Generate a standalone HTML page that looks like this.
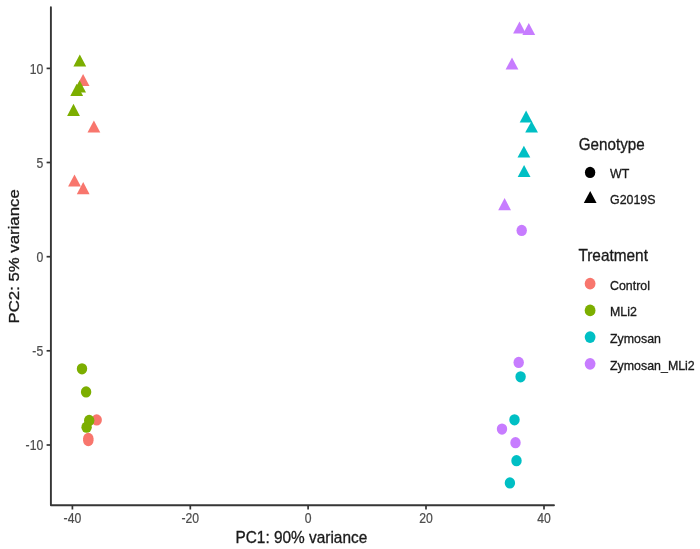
<!DOCTYPE html>
<html><head><meta charset="utf-8"><style>
html,body{margin:0;padding:0;background:#fff;}
body{width:700px;height:549px;overflow:hidden;}
svg{display:block;font-family:"Liberation Sans",sans-serif;filter:blur(0.45px);}
</style></head><body>
<svg width="700" height="549" viewBox="0 0 700 549">
<rect width="700" height="549" fill="#fff"/>
<path d="M50.9,7.3 V505.3 H554.0" fill="none" stroke="#363636" stroke-width="1.9" stroke-linejoin="round" stroke-linecap="round"/>
<line x1="72.4" y1="505" x2="72.4" y2="509.5" stroke="#333333" stroke-width="1.7"/>
<text transform="translate(72.40,523.00) scale(1,1.18)" font-size="12.2" fill="#4D4D4D" stroke="#4D4D4D" stroke-width="0.2" text-anchor="middle">-40</text>
<line x1="190.3" y1="505" x2="190.3" y2="509.5" stroke="#333333" stroke-width="1.7"/>
<text transform="translate(190.30,523.00) scale(1,1.18)" font-size="12.2" fill="#4D4D4D" stroke="#4D4D4D" stroke-width="0.2" text-anchor="middle">-20</text>
<line x1="308.1" y1="505" x2="308.1" y2="509.5" stroke="#333333" stroke-width="1.7"/>
<text transform="translate(308.10,523.00) scale(1,1.18)" font-size="12.2" fill="#4D4D4D" stroke="#4D4D4D" stroke-width="0.2" text-anchor="middle">0</text>
<line x1="426.0" y1="505" x2="426.0" y2="509.5" stroke="#333333" stroke-width="1.7"/>
<text transform="translate(426.00,523.00) scale(1,1.18)" font-size="12.2" fill="#4D4D4D" stroke="#4D4D4D" stroke-width="0.2" text-anchor="middle">20</text>
<line x1="544.0" y1="505" x2="544.0" y2="509.5" stroke="#333333" stroke-width="1.7"/>
<text transform="translate(544.00,523.00) scale(1,1.18)" font-size="12.2" fill="#4D4D4D" stroke="#4D4D4D" stroke-width="0.2" text-anchor="middle">40</text>
<line x1="46.6" y1="68.4" x2="51" y2="68.4" stroke="#333333" stroke-width="1.7"/>
<text transform="translate(43.20,73.50) scale(1,1.18)" font-size="12.2" fill="#4D4D4D" stroke="#4D4D4D" stroke-width="0.2" text-anchor="end">10</text>
<line x1="46.6" y1="162.5" x2="51" y2="162.5" stroke="#333333" stroke-width="1.7"/>
<text transform="translate(43.20,167.60) scale(1,1.18)" font-size="12.2" fill="#4D4D4D" stroke="#4D4D4D" stroke-width="0.2" text-anchor="end">5</text>
<line x1="46.6" y1="256.7" x2="51" y2="256.7" stroke="#333333" stroke-width="1.7"/>
<text transform="translate(43.20,261.80) scale(1,1.18)" font-size="12.2" fill="#4D4D4D" stroke="#4D4D4D" stroke-width="0.2" text-anchor="end">0</text>
<line x1="46.6" y1="350.8" x2="51" y2="350.8" stroke="#333333" stroke-width="1.7"/>
<text transform="translate(43.20,355.90) scale(1,1.18)" font-size="12.2" fill="#4D4D4D" stroke="#4D4D4D" stroke-width="0.2" text-anchor="end">-5</text>
<line x1="46.6" y1="445.0" x2="51" y2="445.0" stroke="#333333" stroke-width="1.7"/>
<text transform="translate(43.20,449.60) scale(1,1.18)" font-size="12.2" fill="#4D4D4D" stroke="#4D4D4D" stroke-width="0.2" text-anchor="end">-10</text>
<text transform="translate(235.50,542.50) scale(1,1.09)" font-size="15.4" fill="#1a1a1a" stroke="#1a1a1a" stroke-width="0.3" text-anchor="start">PC1: 90% variance</text>
<text transform="translate(19.00,323.50) scale(1,1.09) rotate(-90)" font-size="15.4" fill="#1a1a1a" stroke="#1a1a1a" stroke-width="0.3" text-anchor="start">PC2: 5% variance</text>
<polygon points="79.80,54.60 86.20,66.50 73.40,66.50" fill="#7CAE00"/>
<polygon points="83.10,73.90 89.50,85.90 76.70,85.90" fill="#F8766D"/>
<polygon points="79.60,80.20 86.00,92.40 73.20,92.40" fill="#7CAE00"/>
<polygon points="76.70,83.70 83.10,95.90 70.30,95.90" fill="#7CAE00"/>
<polygon points="73.50,103.80 79.90,115.90 67.10,115.90" fill="#7CAE00"/>
<polygon points="93.90,120.50 100.30,132.60 87.50,132.60" fill="#F8766D"/>
<polygon points="74.50,174.50 80.90,186.60 68.10,186.60" fill="#F8766D"/>
<polygon points="83.20,182.10 89.60,194.20 76.80,194.20" fill="#F8766D"/>
<polygon points="519.50,21.50 525.90,33.60 513.10,33.60" fill="#C77CFF"/>
<polygon points="528.80,23.00 535.20,35.10 522.40,35.10" fill="#C77CFF"/>
<polygon points="512.00,57.40 518.40,69.60 505.60,69.60" fill="#C77CFF"/>
<polygon points="526.10,110.50 532.50,122.40 519.70,122.40" fill="#00BFC4"/>
<polygon points="531.60,120.90 538.00,132.50 525.20,132.50" fill="#00BFC4"/>
<polygon points="523.90,145.70 530.30,157.60 517.50,157.60" fill="#00BFC4"/>
<polygon points="524.10,165.00 530.50,176.90 517.70,176.90" fill="#00BFC4"/>
<polygon points="504.60,198.00 511.00,210.30 498.20,210.30" fill="#C77CFF"/>
<ellipse cx="82.00" cy="368.80" rx="5.2" ry="5.65" fill="#7CAE00"/>
<ellipse cx="86.10" cy="391.90" rx="5.2" ry="5.65" fill="#7CAE00"/>
<ellipse cx="96.70" cy="419.90" rx="5.2" ry="5.65" fill="#F8766D"/>
<ellipse cx="89.20" cy="420.40" rx="5.2" ry="5.65" fill="#7CAE00"/>
<ellipse cx="86.60" cy="427.20" rx="5.2" ry="5.65" fill="#7CAE00"/>
<ellipse cx="88.30" cy="438.40" rx="5.2" ry="5.65" fill="#F8766D"/>
<ellipse cx="88.30" cy="440.50" rx="5.2" ry="5.65" fill="#F8766D"/>
<ellipse cx="521.70" cy="230.40" rx="5.2" ry="5.65" fill="#C77CFF"/>
<ellipse cx="518.70" cy="362.40" rx="5.2" ry="5.65" fill="#C77CFF"/>
<ellipse cx="520.60" cy="376.80" rx="5.2" ry="5.65" fill="#00BFC4"/>
<ellipse cx="514.50" cy="419.80" rx="5.2" ry="5.65" fill="#00BFC4"/>
<ellipse cx="502.00" cy="429.10" rx="5.2" ry="5.65" fill="#C77CFF"/>
<ellipse cx="515.50" cy="442.70" rx="5.2" ry="5.65" fill="#C77CFF"/>
<ellipse cx="516.50" cy="460.70" rx="5.2" ry="5.65" fill="#00BFC4"/>
<ellipse cx="509.90" cy="482.90" rx="5.2" ry="5.65" fill="#00BFC4"/>
<text transform="translate(578.80,149.80) scale(1,1.09)" font-size="15.2" fill="#1a1a1a" stroke="#1a1a1a" stroke-width="0.3" text-anchor="start">Genotype</text>
<ellipse cx="590.10" cy="172.40" rx="5.2" ry="5.65" fill="#000"/>
<text transform="translate(610.00,177.90) scale(1,1.09)" font-size="12.4" fill="#1a1a1a" stroke="#1a1a1a" stroke-width="0.3" text-anchor="start">WT</text>
<polygon points="590.2,191.0 596.6,203.0 583.8,203.0" fill="#000"/>
<text transform="translate(610.00,204.10) scale(1,1.09)" font-size="12.4" fill="#1a1a1a" stroke="#1a1a1a" stroke-width="0.3" text-anchor="start">G2019S</text>
<text transform="translate(578.40,260.90) scale(1,1.09)" font-size="15.4" fill="#1a1a1a" stroke="#1a1a1a" stroke-width="0.3" text-anchor="start">Treatment</text>
<ellipse cx="590.10" cy="283.70" rx="5.4" ry="5.85" fill="#F8766D"/>
<text transform="translate(610.00,289.60) scale(1,1.09)" font-size="12.4" fill="#1a1a1a" stroke="#1a1a1a" stroke-width="0.3" text-anchor="start">Control</text>
<ellipse cx="590.10" cy="310.40" rx="5.4" ry="5.85" fill="#7CAE00"/>
<text transform="translate(610.00,316.30) scale(1,1.09)" font-size="12.4" fill="#1a1a1a" stroke="#1a1a1a" stroke-width="0.3" text-anchor="start">MLi2</text>
<ellipse cx="590.10" cy="337.10" rx="5.4" ry="5.85" fill="#00BFC4"/>
<text transform="translate(610.00,343.00) scale(1,1.09)" font-size="12.4" fill="#1a1a1a" stroke="#1a1a1a" stroke-width="0.3" text-anchor="start">Zymosan</text>
<ellipse cx="590.10" cy="363.80" rx="5.4" ry="5.85" fill="#C77CFF"/>
<text transform="translate(610.00,369.70) scale(1,1.09)" font-size="12.4" fill="#1a1a1a" stroke="#1a1a1a" stroke-width="0.3" text-anchor="start">Zymosan_MLi2</text>
</svg>
</body></html>
